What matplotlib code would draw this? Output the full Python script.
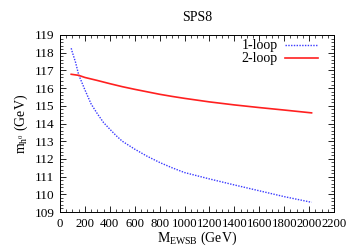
import matplotlib
matplotlib.use("Agg")
import matplotlib.pyplot as plt
from matplotlib.ticker import MultipleLocator, AutoMinorLocator

plt.rcParams['font.family'] = ['Liberation Serif', 'DejaVu Serif']
plt.rcParams['mathtext.fontset'] = 'custom'
plt.rcParams['mathtext.rm'] = 'Liberation Serif'
plt.rcParams['mathtext.it'] = 'Liberation Serif:italic'

# M_EWSB (GeV) and light Higgs mass (GeV)
m_ewsb_1loop = [90, 100, 125, 150, 200, 250, 300, 350, 400, 450, 500, 600, 700,
                800, 900, 1000, 1200, 1400, 1600, 1800, 2020]
mh_1loop = [118.25, 118.0, 117.45, 116.75, 115.9, 115.1, 114.55, 114.05, 113.68,
            113.32, 113.0, 112.55, 112.15, 111.8, 111.5, 111.23, 110.87, 110.53,
            110.2, 109.87, 109.55]

m_ewsb_2loop = [90, 150, 200, 300, 400, 500, 600, 700, 800, 900, 1000, 1200,
                1400, 1600, 1800, 2020]
mh_2loop = [116.78, 116.72, 116.6, 116.43, 116.25, 116.08, 115.93, 115.79, 115.65,
            115.53, 115.42, 115.22, 115.05, 114.9, 114.76, 114.6]

fig = plt.figure(figsize=(3.54, 2.48), dpi=100)
ax = fig.add_axes([0.1695, 0.145, 0.774, 0.714])

ax.plot(m_ewsb_1loop, mh_1loop, color='#3a3aff', linestyle=(0, (1, 1)), lw=1.0, label='1-loop')
ax.plot(m_ewsb_2loop, mh_2loop, color='#ff2020', linestyle='-', lw=1.2, label='2-loop')

ax.set_xlim(0, 2200)
ax.set_ylim(109, 119)
ax.xaxis.set_major_locator(MultipleLocator(200))
ax.xaxis.set_minor_locator(AutoMinorLocator(4))
ax.yaxis.set_major_locator(MultipleLocator(1))
ax.yaxis.set_minor_locator(AutoMinorLocator(5))
ax.tick_params(which='both', direction='in', top=True, right=True, labelsize=9.5, pad=4)
ax.tick_params(axis='x', labelsize=9.2)
ax.tick_params(which='major', length=4, width=0.6)
ax.tick_params(which='minor', length=2, width=0.5)
for s in ax.spines.values():
    s.set_linewidth(0.7)

ax.set_title('SPS8', fontsize=10, pad=10)
ax.set_xlabel(r'M$_{\rm EWSB}$ (GeV)', fontsize=10, labelpad=0)
ax.set_ylabel(r'm$_{\rm h^0}$ (GeV)', fontsize=10, labelpad=3)

ax.legend(loc='upper right', bbox_to_anchor=(0.942, 0.975), frameon=False,
          markerfirst=False, fontsize=10, handlelength=2.4, labelspacing=0.0,
          borderaxespad=0, borderpad=0, handletextpad=0.5)

fig.savefig('out.png', dpi=100)
